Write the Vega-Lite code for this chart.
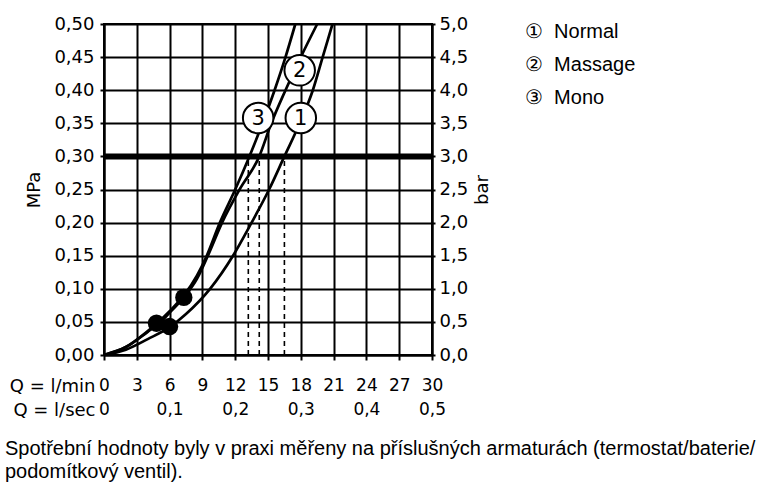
{
  "$schema": "https://vega.github.io/schema/vega-lite/v6.json",
  "width": 328,
  "height": 331,
  "autosize": {"type": "none"},
  "padding": {"left": 104, "top": 24, "right": 328, "bottom": 140},
  "background": "white",
  "config": {"view": {"stroke": "black", "strokeWidth": 2}, "font": "DejaVu Sans"},
  "title": {
    "text": ["Spotřební hodnoty byly v praxi měřeny na příslušných armaturách (termostat/baterie/", "podomítkový ventil)."],
    "orient": "bottom",
    "anchor": "start",
    "frame": "group",
    "dx": -99,
    "offset": 20,
    "font": "Liberation Sans",
    "fontSize": 20,
    "fontWeight": "normal",
    "color": "black",
    "lineHeight": 23,
    "baseline": "top"
  },
  "datasets": {
    "curves": [
      {"series": "①\u00a0\u00a0Normal", "q": 0, "p": 0},
      {"series": "①\u00a0\u00a0Normal", "q": 2, "p": 0.008},
      {"series": "①\u00a0\u00a0Normal", "q": 4, "p": 0.024},
      {"series": "①\u00a0\u00a0Normal", "q": 6, "p": 0.042},
      {"series": "①\u00a0\u00a0Normal", "q": 7.5, "p": 0.062},
      {"series": "①\u00a0\u00a0Normal", "q": 9.7, "p": 0.1},
      {"series": "①\u00a0\u00a0Normal", "q": 11.8, "p": 0.15},
      {"series": "①\u00a0\u00a0Normal", "q": 13.5, "p": 0.2},
      {"series": "①\u00a0\u00a0Normal", "q": 15.1, "p": 0.25},
      {"series": "①\u00a0\u00a0Normal", "q": 16.5, "p": 0.3},
      {"series": "①\u00a0\u00a0Normal", "q": 17.9, "p": 0.35},
      {"series": "①\u00a0\u00a0Normal", "q": 19.1, "p": 0.4},
      {"series": "①\u00a0\u00a0Normal", "q": 20.0, "p": 0.45},
      {"series": "①\u00a0\u00a0Normal", "q": 20.9, "p": 0.5},
      {"series": "②\u00a0\u00a0Massage", "q": 0, "p": 0},
      {"series": "②\u00a0\u00a0Massage", "q": 2, "p": 0.012},
      {"series": "②\u00a0\u00a0Massage", "q": 4, "p": 0.035},
      {"series": "②\u00a0\u00a0Massage", "q": 5, "p": 0.047},
      {"series": "②\u00a0\u00a0Massage", "q": 6, "p": 0.064},
      {"series": "②\u00a0\u00a0Massage", "q": 7.3, "p": 0.087},
      {"series": "②\u00a0\u00a0Massage", "q": 8.5, "p": 0.115},
      {"series": "②\u00a0\u00a0Massage", "q": 9.5, "p": 0.15},
      {"series": "②\u00a0\u00a0Massage", "q": 10.8, "p": 0.2},
      {"series": "②\u00a0\u00a0Massage", "q": 12.4, "p": 0.25},
      {"series": "②\u00a0\u00a0Massage", "q": 14.2, "p": 0.3},
      {"series": "②\u00a0\u00a0Massage", "q": 15.3, "p": 0.35},
      {"series": "②\u00a0\u00a0Massage", "q": 16.6, "p": 0.4},
      {"series": "②\u00a0\u00a0Massage", "q": 18.0, "p": 0.45},
      {"series": "②\u00a0\u00a0Massage", "q": 19.5, "p": 0.5},
      {"series": "③\u00a0\u00a0Mono", "q": 0, "p": 0},
      {"series": "③\u00a0\u00a0Mono", "q": 2, "p": 0.012},
      {"series": "③\u00a0\u00a0Mono", "q": 4, "p": 0.036},
      {"series": "③\u00a0\u00a0Mono", "q": 4.8, "p": 0.047},
      {"series": "③\u00a0\u00a0Mono", "q": 6, "p": 0.066},
      {"series": "③\u00a0\u00a0Mono", "q": 7.3, "p": 0.09},
      {"series": "③\u00a0\u00a0Mono", "q": 8.5, "p": 0.12},
      {"series": "③\u00a0\u00a0Mono", "q": 9.4, "p": 0.15},
      {"series": "③\u00a0\u00a0Mono", "q": 10.6, "p": 0.2},
      {"series": "③\u00a0\u00a0Mono", "q": 12.0, "p": 0.25},
      {"series": "③\u00a0\u00a0Mono", "q": 13.3, "p": 0.3},
      {"series": "③\u00a0\u00a0Mono", "q": 14.5, "p": 0.35},
      {"series": "③\u00a0\u00a0Mono", "q": 15.6, "p": 0.4},
      {"series": "③\u00a0\u00a0Mono", "q": 16.6, "p": 0.45},
      {"series": "③\u00a0\u00a0Mono", "q": 17.5, "p": 0.5}
    ],
    "hline": [{"p": 0.3}],
    "dashes": [
      {"q": 13.2, "p0": 0, "p1": 0.3},
      {"q": 14.2, "p0": 0, "p1": 0.3},
      {"q": 16.5, "p0": 0, "p1": 0.3}
    ],
    "dots": [
      {"q": 4.8, "p": 0.048},
      {"q": 6.0, "p": 0.043},
      {"q": 7.3, "p": 0.087}
    ],
    "labels": [
      {"lbl": "1", "q": 18.0, "p": 0.358},
      {"lbl": "2", "q": 17.9, "p": 0.43},
      {"lbl": "3", "q": 14.1, "p": 0.358}
    ]
  },
  "layer": [
    {
      "data": {"name": "curves"},
      "mark": {"type": "line", "interpolate": "monotone", "strokeWidth": 2.7},
      "encoding": {
        "x": {
          "field": "q", "type": "quantitative",
          "scale": {"domain": [0, 30], "nice": false},
          "axis": {
            "values": [0, 3, 6, 9, 12, 15, 18, 21, 24, 27, 30],
            "tickCount": 11,
            "grid": true, "gridColor": "black", "gridWidth": 2, "gridOpacity": 1,
            "domainColor": "black", "domainWidth": 2,
            "tickColor": "black", "tickWidth": 2, "tickSize": 5,
            "labelPadding": 17, "labelFont": "DejaVu Sans", "labelFontSize": 17,
            "labelColor": "black", "labelLineHeight": 24, "labelFlush": false, "labelOverlap": false,
            "labelBaseline": "top",
            "labelExpr": "[format(datum.value, 'd'), datum.value % 6 == 0 ? (datum.value == 0 ? '0' : replace(format(datum.value / 60, '.1f'), '.', ',')) : '']",
            "title": ["Q = l/min", "Q = l/sec"],
            "titleX": -9, "titleY": 22, "titleAlign": "right", "titleBaseline": "top",
            "titleFont": "DejaVu Sans", "titleFontSize": 18, "titleFontWeight": "normal",
            "titleLineHeight": 24, "titleColor": "black"
          }
        },
        "y": {
          "field": "p", "type": "quantitative",
          "scale": {"domain": [0, 0.5], "nice": false},
          "axis": {
            "orient": "left",
            "values": [0, 0.05, 0.1, 0.15, 0.2, 0.25, 0.3, 0.35, 0.4, 0.45, 0.5],
            "tickCount": 11,
            "grid": true, "gridColor": "black", "gridWidth": 2, "gridOpacity": 1,
            "domainColor": "black", "domainWidth": 2,
            "tickColor": "black", "tickWidth": 2, "tickSize": 4,
            "labelPadding": 6, "labelFont": "DejaVu Sans", "labelFontSize": 18, "labelColor": "black",
            "labelExpr": "replace(format(datum.value, '.2f'), '.', ',')",
            "title": "MPa", "titleFont": "DejaVu Sans", "titleFontSize": 18, "titleFontWeight": "normal",
            "titleColor": "black", "titlePadding": 10
          }
        },
        "color": {
          "field": "series", "type": "nominal",
          "scale": {"domain": ["①\u00a0\u00a0Normal", "②\u00a0\u00a0Massage", "③\u00a0\u00a0Mono"], "range": ["black", "black", "black"]},
          "legend": {
            "orient": "none", "legendX": 401, "legendY": -2, "title": null,
            "symbolSize": 0, "symbolOpacity": 0, "symbolStrokeWidth": 0,
            "labelFont": "Liberation Sans", "labelFontSize": 20, "labelColor": "black",
            "labelOffset": 0, "rowPadding": 13, "padding": 0, "labelLimit": 300
          }
        },
        "order": {"field": "q", "type": "quantitative"}
      }
    },
    {
      "data": {"name": "hline"},
      "mark": {"type": "rule", "strokeWidth": 6, "color": "black"},
      "encoding": {
        "y": {
          "field": "p", "type": "quantitative",
          "axis": {
            "orient": "right",
            "values": [0, 0.05, 0.1, 0.15, 0.2, 0.25, 0.3, 0.35, 0.4, 0.45, 0.5],
            "tickCount": 11,
            "grid": false,
            "domainColor": "black", "domainWidth": 2,
            "tickColor": "black", "tickWidth": 2, "tickSize": 3,
            "labelPadding": 4, "labelFont": "DejaVu Sans", "labelFontSize": 18, "labelColor": "black",
            "labelExpr": "replace(format(datum.value * 10, '.1f'), '.', ',')",
            "title": "bar", "titleFont": "DejaVu Sans", "titleFontSize": 18, "titleFontWeight": "normal",
            "titleColor": "black", "titleAngle": 270, "titleBaseline": "top", "titlePadding": 6
          }
        }
      }
    },
    {
      "data": {"name": "dashes"},
      "mark": {"type": "rule", "strokeWidth": 1.6, "strokeDash": [5, 4], "color": "black"},
      "encoding": {
        "x": {"field": "q", "type": "quantitative"},
        "y": {"field": "p0", "type": "quantitative", "axis": null},
        "y2": {"field": "p1"}
      }
    },
    {
      "data": {"name": "dots"},
      "mark": {"type": "point", "shape": "circle", "filled": true, "size": 300, "color": "black", "opacity": 1},
      "encoding": {
        "x": {"field": "q", "type": "quantitative"},
        "y": {"field": "p", "type": "quantitative", "axis": null}
      }
    },
    {
      "data": {"name": "labels"},
      "mark": {"type": "point", "shape": "circle", "filled": true, "size": 930, "fill": "white", "stroke": "black", "strokeWidth": 2, "opacity": 1},
      "encoding": {
        "x": {"field": "q", "type": "quantitative"},
        "y": {"field": "p", "type": "quantitative", "axis": null}
      }
    },
    {
      "data": {"name": "labels"},
      "mark": {"type": "text", "font": "DejaVu Sans", "fontSize": 21, "color": "black", "baseline": "middle", "align": "center", "dy": 1},
      "encoding": {
        "x": {"field": "q", "type": "quantitative"},
        "y": {"field": "p", "type": "quantitative", "axis": null},
        "text": {"field": "lbl"}
      }
    }
  ],
  "resolve": {"axis": {"y": "independent"}}
}
